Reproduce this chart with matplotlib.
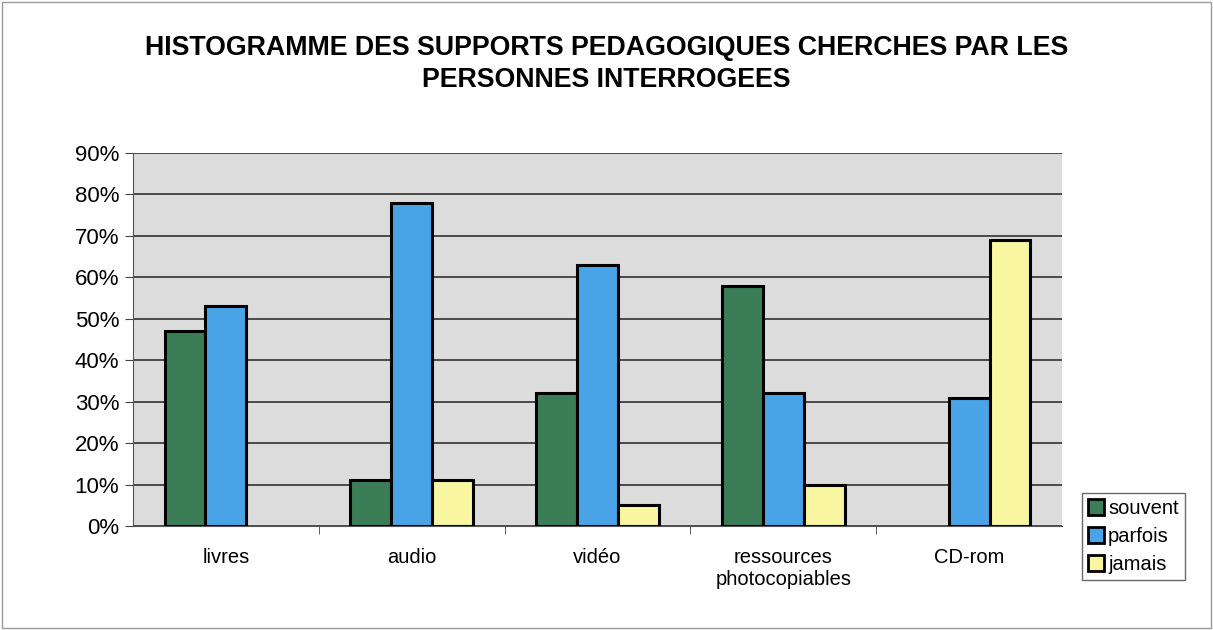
import matplotlib
matplotlib.use("Agg")
import matplotlib.pyplot as plt
import numpy as np
from matplotlib.patches import Rectangle

categories = ["livres", "audio", "vidéo", "ressources\nphotocopiables", "CD-rom"]
souvent = [47, 11, 32, 58, 0]
parfois = [53, 78, 63, 32, 31]
jamais = [0, 11, 5, 10, 69]
series_names = ["souvent", "parfois", "jamais"]
colors = ["#3b7d57", "#4aa3e6", "#f8f6a0"]
yticks = [0, 10, 20, 30, 40, 50, 60, 70, 80, 90]

plt.rcParams['font.family'] = ['Liberation Sans', 'DejaVu Sans']

fig = plt.figure(figsize=(12.13, 6.3), dpi=100)
fig.patch.set_facecolor("white")
fig.add_artist(Rectangle((0.002, 0.003), 0.996, 0.994, transform=fig.transFigure,
                         fill=False, edgecolor="#999999", lw=1.0))

W, H = 1213, 630
ax = fig.add_axes([133 / W, 1 - 526 / H, (1062 - 133) / W, (526 - 153) / H])
ax.set_facecolor("#dcdcdc")

x = np.arange(len(categories))
bw = 0.22
for i, (vals, c, name) in enumerate(zip([souvent, parfois, jamais], colors, series_names)):
    bars = ax.bar(x + (i - 1) * bw, vals, width=bw, color=c, edgecolor="black", lw=2.2,
                  label=name, zorder=3)
    for b, v in zip(bars, vals):
        if v == 0:
            b.set_visible(False)

ax.set_ylim(0, 90)
ax.set_xlim(-0.5, len(categories) - 0.5)
ax.set_yticks(yticks)
ax.set_yticklabels([f"{v}%" for v in yticks], fontsize=16)
ax.yaxis.grid(True, color="#222222", lw=1.1, zorder=1)
ax.set_axisbelow(True)

ax.set_xticks(x)
ax.set_xticklabels(categories, fontsize=14.5)
ax.tick_params(axis="x", length=0, pad=16)
ax.set_xticks(np.arange(len(categories) + 1)[1:-1] - 0.5, minor=True)
ax.tick_params(axis="x", which="minor", length=6, color="#444444", direction="out")
ax.tick_params(axis="y", length=6, color="#444444", direction="out", pad=4)

for s in ["top", "right"]:
    ax.spines[s].set_visible(False)
ax.spines["left"].set_color("#555555")
ax.spines["bottom"].set_color("#555555")

fig.text(0.5, 1 - 48 / H, "HISTOGRAMME DES SUPPORTS PEDAGOGIQUES CHERCHES PAR LES",
         ha="center", va="center", fontsize=19.3, fontweight="bold")
fig.text(0.5, 1 - 80 / H, "PERSONNES INTERROGEES",
         ha="center", va="center", fontsize=19.3, fontweight="bold")

leg = fig.legend(loc="upper left", bbox_to_anchor=(1082 / W, 1 - 493 / H),
                 fontsize=14.5, frameon=True, fancybox=False, handlelength=0.8,
                 handleheight=0.8, handletextpad=0.2, borderpad=0.3, labelspacing=0.45,
                 borderaxespad=0)
leg.get_frame().set_edgecolor("#444444")
leg.get_frame().set_linewidth(1.0)
for h in leg.legend_handles:
    h.set_linewidth(2.0)
    h.set_visible(True)

fig.savefig("out.png", dpi=100)
